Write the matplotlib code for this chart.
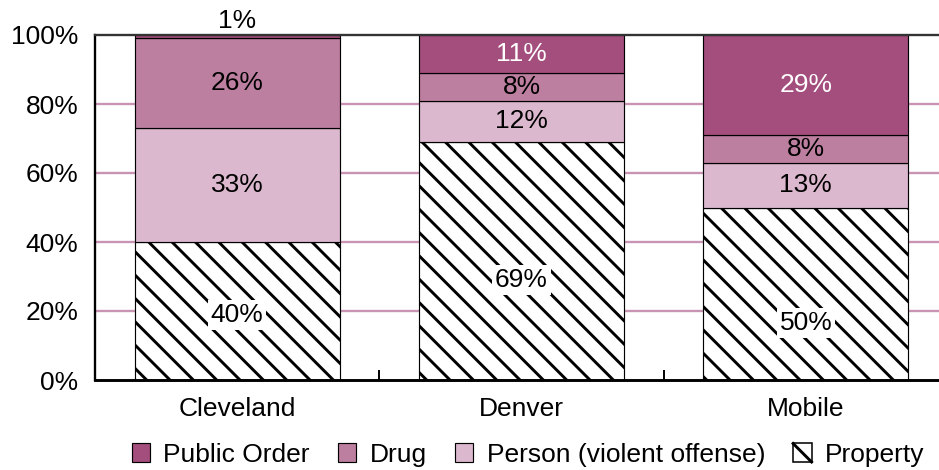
import matplotlib
matplotlib.use("Agg")
from matplotlib import pyplot as plt
from matplotlib.patches import Patch, Rectangle
from matplotlib.lines import Line2D
from matplotlib.legend_handler import HandlerBase
import numpy as np

plt.rcParams["font.family"] = ["Liberation Sans", "DejaVu Sans"]
plt.rcParams["hatch.linewidth"] = 1.5
plt.rcParams["hatch.color"] = "black"

cities = ["Cleveland", "Denver", "Mobile"]
offenses = ["Property", "Person (violent offense)", "Drug", "Public Order"]
property_pct = [40, 69, 50]
person_pct = [33, 12, 13]
drug_pct = [26, 8, 8]
public_order_pct = [1, 11, 29]
# the Property labels sit a little below the middle of their bars
property_label_y = [18.8, 29.0, 16.5]

colors = {
    "Public Order": "#a34e7d",
    "Drug": "#bd7fa0",
    "Person (violent offense)": "#dbb8cd",
    "Property": "white",
}
HATCH = "\\\\"
FS = 13.6


class DiagonalBox(HandlerBase):
    """Legend key: white box crossed by one diagonal, like the hatch."""
    def create_artists(self, legend, orig, xd, yd, w, h, fontsize, trans):
        box = Rectangle((-xd, -yd), w, h, facecolor="white",
                        edgecolor="black", linewidth=0.8, transform=trans)
        diag = Line2D([-xd, -xd + w], [-yd + h, -yd], color="black",
                      linewidth=1.5, transform=trans)
        return [box, diag]


fig = plt.figure(figsize=(939 / 140, 470 / 140), dpi=140)
ax = fig.add_axes([95 / 939, 90 / 470, 853 / 939, 345 / 470])

x = np.arange(len(cities))
width = 0.72
series = [property_pct, person_pct, drug_pct, public_order_pct]
bottom = np.zeros(len(cities))
for name, vals in zip(offenses, series):
    vals = np.array(vals, dtype=float)
    ax.bar(x, vals, width, bottom=bottom, color=colors[name],
           edgecolor="black", linewidth=0.6,
           hatch=HATCH if name == "Property" else None, zorder=2)
    for i, v in enumerate(vals):
        if name == "Property":
            ax.text(x[i], property_label_y[i], f"{v:.0f}%", ha="center",
                    va="center", fontsize=FS, zorder=4,
                    bbox=dict(facecolor="white", edgecolor="none", pad=1.5))
        elif name == "Public Order" and v < 5:
            ax.text(x[i], 104.0, f"{v:.0f}%", ha="center", va="center",
                    fontsize=FS, clip_on=False)
        else:
            tc = "white" if name == "Public Order" else "black"
            ax.text(x[i], bottom[i] + v / 2, f"{v:.0f}%", ha="center",
                    va="center", fontsize=FS, color=tc, zorder=4)
    bottom += vals

ax.set_xlim(-0.5, 2.5)
ax.set_ylim(0, 100)
ax.set_yticks([0, 20, 40, 60, 80, 100])
ax.set_yticklabels([f"{t}%" for t in [0, 20, 40, 60, 80, 100]], fontsize=FS)
ax.set_xticks(x)
ax.set_xticklabels(cities, fontsize=FS)
ax.set_xticks([0.5, 1.5], minor=True)
ax.tick_params(axis="x", which="major", length=0, pad=9)
ax.tick_params(axis="x", which="minor", direction="in", length=5,
               width=1, color="black")
ax.tick_params(axis="y", length=0, pad=8.5)

for y in [20, 40, 60, 80]:
    ax.axhline(y, color="#c994b3", linewidth=1.2, zorder=1)
ax.axhline(100, color="#333333", linewidth=1.2, zorder=3, clip_on=False)

for side in ["top", "right"]:
    ax.spines[side].set_visible(False)
ax.spines["left"].set_linewidth(1.2)
ax.spines["bottom"].set_linewidth(1.5)

legend_order = ["Public Order", "Drug", "Person (violent offense)", "Property"]
handles = [Patch(facecolor=colors[n], edgecolor="black", linewidth=0.6)
           for n in legend_order]
fig.legend(handles, legend_order,
           loc="center", bbox_to_anchor=(528 / 939, 15 / 470), ncol=4,
           frameon=False, fontsize=FS, handlelength=0.7, handleheight=0.7,
           handletextpad=0.5, columnspacing=1.06, borderpad=0,
           handler_map={handles[3]: DiagonalBox()})

fig.savefig("out.png", dpi=140)
